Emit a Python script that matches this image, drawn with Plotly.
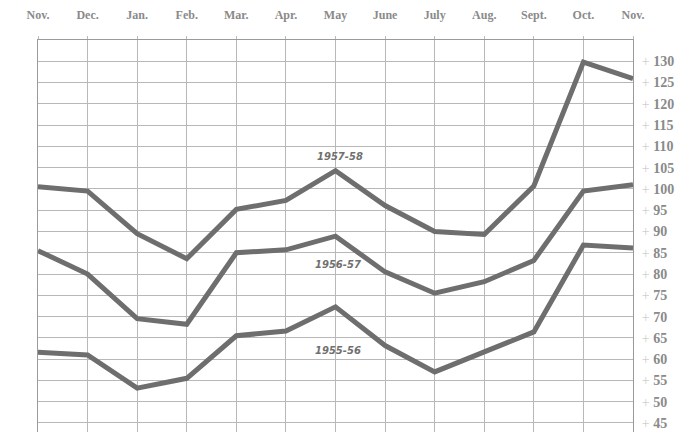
import plotly.graph_objects as go

months = ["Nov.", "Dec.", "Jan.", "Feb.", "Mar.", "Apr.", "May", "June", "July", "Aug.", "Sept.", "Oct.", "Nov."]
s1957_58 = [100.5, 99.5, 89.5, 83.6, 95.2, 97.3, 104.3, 96.1, 90.0, 89.3, 100.7, 129.8, 125.9]
s1956_57 = [85.5, 80.0, 69.5, 68.2, 85.0, 85.7, 88.9, 80.5, 75.5, 78.2, 83.2, 99.5, 101.0]
s1955_56 = [61.6, 61.0, 53.2, 55.5, 65.5, 66.6, 72.3, 63.2, 57.0, 61.6, 66.4, 86.8, 86.1]
series_names = ["1957-58", "1956-57", "1955-56"]
label_pos = [(6.1, 107.6), (6.05, 82.3), (6.05, 62.0)]
y_ticks = [130, 125, 120, 115, 110, 105, 100, 95, 90, 85, 80, 75, 70, 65, 60, 55, 50, 45]

x = list(range(len(months)))
line_color = "#6e6e6e"
text_color = "#8a8a8a"

fig = go.Figure()
for name, vals in zip(series_names, [s1957_58, s1956_57, s1955_56]):
    fig.add_trace(go.Scatter(x=x, y=vals, mode="lines", name=name,
                             line=dict(color=line_color, width=5),
                             showlegend=False, hoverinfo="skip"))

for name, (lx, ly) in zip(series_names, label_pos):
    fig.add_annotation(x=lx, y=ly, text="<b><i>" + name + "</i></b>", showarrow=False,
                       font=dict(family="DejaVu Sans", size=10, color="#707070"))

fig.update_layout(
    width=685, height=432,
    margin=dict(l=30, r=60, t=32, b=0),
    paper_bgcolor="white", plot_bgcolor="white",
    xaxis=dict(range=[0, 12], tickmode="array", tickvals=x,
               ticktext=["<b>" + m + "</b>" for m in months], side="top",
               showgrid=True, gridcolor="#b8b8b8", gridwidth=1,
               showline=True, linecolor="#9a9a9a", linewidth=1, mirror=True,
               ticks="outside", ticklen=3, tickcolor="#bbbbbb", ticklabelstandoff=12,
               tickfont=dict(family="Liberation Serif", size=12, color=text_color),
               zeroline=False, fixedrange=True, automargin=False),
    yaxis=dict(range=[41.0, 135], tickmode="array", tickvals=y_ticks,
               ticktext=["<span style='color:#d0d0d0'>+</span>&nbsp;<b>" + str(v) + "</b>" for v in y_ticks],
               side="right",
               showgrid=True, gridcolor="#b8b8b8", gridwidth=1,
               showline=True, linecolor="#9a9a9a", linewidth=1, mirror=True,
               ticks="", ticklabelstandoff=5,
               tickfont=dict(family="Liberation Serif", size=14, color=text_color),
               zeroline=False, fixedrange=True, automargin=False),
)

fig.write_html("out.html")
